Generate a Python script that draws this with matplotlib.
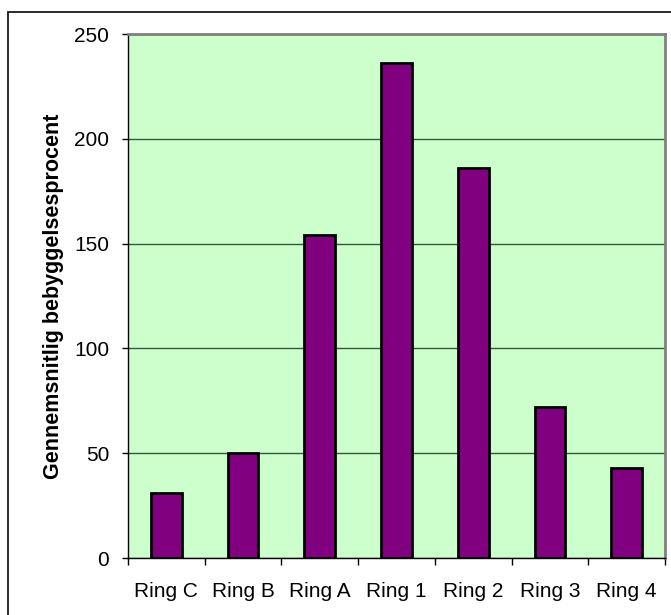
import matplotlib
matplotlib.use("Agg")
import matplotlib.pyplot as plt
from matplotlib.patches import Rectangle
import numpy as np

categories = ["Ring C", "Ring B", "Ring A", "Ring 1", "Ring 2", "Ring 3", "Ring 4"]
values = [31, 50, 154, 236, 186, 72, 43]
y_ticks = [0, 50, 100, 150, 200, 250]

plt.rcParams["font.family"] = ["Liberation Sans", "DejaVu Sans"]

W, H = 671, 615
fig = plt.figure(figsize=(W / 100, H / 100), dpi=100)
fig.patch.set_facecolor("white")

# outer chart frame
fig.patches.append(Rectangle((8 / W, -0.1), 1.2, 1 - 12 / H + 0.1,
                             transform=fig.transFigure, fill=False,
                             edgecolor="#1a1a1a", linewidth=1.3))

ax = fig.add_axes([128 / W, 57 / H, (665 - 128) / W, (558 - 34) / H])
ax.set_facecolor("#CCFFCC")

x = np.arange(len(categories))
ax.bar(x, values, width=0.4, color="#800080", edgecolor="black",
       linewidth=2.0, zorder=3)

ax.set_xlim(-0.5, len(categories) - 0.5)
ax.set_ylim(0, 250)
ax.set_yticks(y_ticks)
ax.set_yticklabels([str(v) for v in y_ticks], fontsize=15)
ax.yaxis.grid(True, color="#34553a", linewidth=1.0, zorder=1)
ax.set_axisbelow(True)

# category labels centred, tick marks on category boundaries
ax.set_xticks(x)
ax.set_xticklabels(categories, fontsize=15)
ax.tick_params(axis="x", which="major", length=0, pad=17)
ax.set_xticks(np.arange(-0.5, len(categories)), minor=True)
ax.tick_params(axis="x", which="minor", length=5, width=1, color="black",
               direction="out")
ax.tick_params(axis="y", length=4.5, width=1, color="black", direction="out",
               pad=9)

for side in ("top", "right"):
    ax.spines[side].set_color("#808080")
    ax.spines[side].set_linewidth(2.0)
for side in ("left", "bottom"):
    ax.spines[side].set_color("black")
    ax.spines[side].set_linewidth(1.0)

ax.set_ylabel("Gennemsnitlig bebyggelsesprocent", fontsize=15.5,
              fontweight="bold", labelpad=7)

fig.savefig("out.png", dpi=100)
